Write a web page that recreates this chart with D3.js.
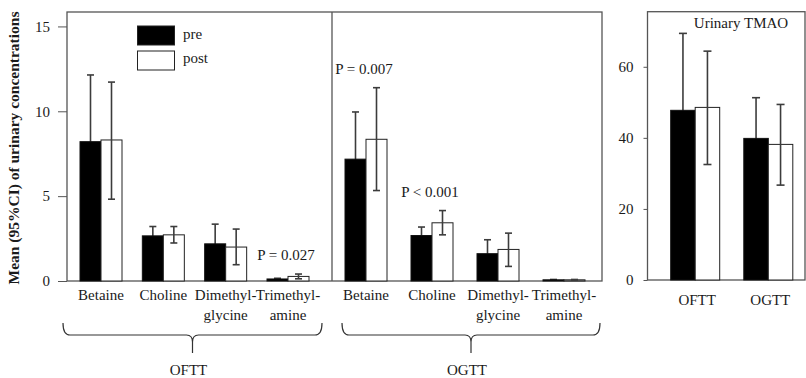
<!DOCTYPE html>
<html>
<head>
<meta charset="utf-8">
<script src="https://cdn.jsdelivr.net/npm/d3@7"></script>
<style>
body { margin: 0; background: #fff; }
svg { display: block; }
text { font-family: "Liberation Serif", "Times New Roman", serif; fill: #1a1a1a; }
</style>
</head>
<body>
<svg id="chart" width="806" height="378"></svg>
<script>
/* ------------------------------ Data ------------------------------ */
var metabolites = ["Betaine", "Choline", "Dimethylglycine", "Trimethylamine"];
var metaboliteLabels = [["Betaine"], ["Choline"], ["Dimethyl-", "glycine"], ["Trimethyl-", "amine"]];
var tests = ["OFTT", "OGTT"];

// OFTT, mean and 95% CI
var ofttPre    = [8.21, 2.66, 2.19, 0.12];
var ofttPreLo  = [4.3, 2.1, 1.05, 0.08];
var ofttPreHi  = [12.14, 3.21, 3.35, 0.16];
var ofttPost   = [8.31, 2.72, 2.0, 0.27];
var ofttPostLo = [4.82, 2.24, 0.96, 0.13];
var ofttPostHi = [11.72, 3.21, 3.06, 0.41];

// OGTT, mean and 95% CI
var ogttPre    = [7.18, 2.68, 1.61, 0.07];
var ogttPreLo  = [4.4, 2.2, 0.8, 0.05];
var ogttPreHi  = [9.96, 3.18, 2.43, 0.09];
var ogttPost   = [8.35, 3.43, 1.86, 0.07];
var ogttPostLo = [5.33, 2.72, 0.86, 0.05];
var ogttPostHi = [11.39, 4.15, 2.82, 0.09];

// Urinary TMAO (OFTT, OGTT)
var tmaoPre    = [47.75, 39.85];
var tmaoPreLo  = [26.5, 28.5];
var tmaoPreHi  = [69.4, 51.3];
var tmaoPost   = [48.57, 38.16];
var tmaoPostLo = [32.5, 26.7];
var tmaoPostHi = [64.4, 49.4];

var leftTicks = [0, 5, 10, 15];
var tmaoTicks = [0, 20, 40, 60];

var pLabels = [
  { test: "OFTT", metabolite: "Trimethylamine", text: "P = 0.027" },
  { test: "OGTT", metabolite: "Betaine", text: "P = 0.007" },
  { test: "OGTT", metabolite: "Choline", text: "P < 0.001" }
];

/* ------------------------------ Layout ------------------------------ */
var svg = d3.select("#chart");
var frameColor = "#555";
var errColor = "#3c3c3c";

var top0 = 12, base0 = 281;
var y = d3.scaleLinear().domain([0, 15.85]).range([base0, top0]);

var panels = [
  { name: "OFTT", x0: 67, x1: 332, inL: 34, inR: 44, braceL: -4, braceR: -10,
    pre: ofttPre, preLo: ofttPreLo, preHi: ofttPreHi, post: ofttPost, postLo: ofttPostLo, postHi: ofttPostHi },
  { name: "OGTT", x0: 332, x1: 602, inL: 34, inR: 38, braceL: 10, braceR: -2,
    pre: ogttPre, preLo: ogttPreLo, preHi: ogttPreHi, post: ogttPost, postLo: ogttPostLo, postHi: ogttPostHi }
];
var bw = 21;

function errorBar(g, x, lo, hi, yScale, cap) {
  g.append("line").attr("x1", x).attr("x2", x).attr("y1", yScale(lo)).attr("y2", yScale(hi))
    .attr("stroke", errColor).attr("stroke-width", 1.6);
  [lo, hi].forEach(function(v) {
    g.append("line").attr("x1", x - cap / 2).attr("x2", x + cap / 2)
      .attr("y1", yScale(v)).attr("y2", yScale(v))
      .attr("stroke", errColor).attr("stroke-width", 1.6);
  });
}

// pre bar hides the lower half of its error bar, post bar shows it
function barPair(g, cx, width, yScale, pre, preLo, preHi, post, postLo, postHi, cap) {
  errorBar(g, cx - width / 2, preLo, preHi, yScale, cap);
  g.append("rect").attr("x", cx - width).attr("y", yScale(pre)).attr("width", width)
    .attr("height", yScale(0) - yScale(pre)).attr("fill", "#000").attr("stroke", "#111");
  g.append("rect").attr("x", cx).attr("y", yScale(post)).attr("width", width)
    .attr("height", yScale(0) - yScale(post)).attr("fill", "#fff").attr("stroke", "#222");
  errorBar(g, cx + width / 2, postLo, postHi, yScale, cap);
}

// left axis (ticks + labels)
var yAxis = d3.axisLeft(y).tickValues(leftTicks).tickSize(9).tickPadding(8).tickFormat(d3.format("d"));
var ga = svg.append("g").attr("transform", "translate(67,0)").call(yAxis);
ga.select(".domain").remove();
ga.selectAll("line").attr("stroke", frameColor);
ga.selectAll("text").style("font-size", "15px").style("font-family", "'Liberation Serif', serif").attr("fill", "#1a1a1a");

// frame of the two-panel plot
svg.append("rect").attr("x", 67).attr("y", top0).attr("width", 602 - 67).attr("height", base0 - top0)
  .attr("fill", "none").attr("stroke", frameColor).attr("stroke-width", 1.3);
svg.append("line").attr("x1", 332).attr("x2", 332).attr("y1", top0).attr("y2", base0)
  .attr("stroke", frameColor).attr("stroke-width", 1.3);

svg.append("text").attr("transform", "translate(19,148) rotate(-90)")
  .attr("text-anchor", "middle").style("font-size", "15.5px").style("font-weight", "bold")
  .text("Mean (95%CI) of urinary concentrations");

panels.forEach(function(p) {
  var xp = d3.scalePoint().domain(metabolites).range([p.x0 + p.inL, p.x1 - p.inR]);
  p.scale = xp;
  var g = svg.append("g");

  metabolites.forEach(function(m, i) {
    var cx = xp(m);
    barPair(g, cx, bw, y, p.pre[i], p.preLo[i], p.preHi[i], p.post[i], p.postLo[i], p.postHi[i], 7);

    // category labels
    metaboliteLabels[i].forEach(function(line, k) {
      g.append("text").attr("x", cx).attr("y", 300 + k * 20).attr("text-anchor", "middle")
        .style("font-size", "15px").text(line);
    });
  });

  // curly brace under the categories
  var bx0 = p.x0 + p.braceL, bx1 = p.x1 + p.braceR, bc = (bx0 + bx1) / 2;
  var path = d3.path();
  path.moveTo(bx0, 323);
  path.quadraticCurveTo(bx0, 335, bx0 + 7, 335);
  path.lineTo(bc - 6, 335);
  path.quadraticCurveTo(bc, 335, bc, 342);
  path.lineTo(bc, 353);
  path.moveTo(bc, 342);
  path.quadraticCurveTo(bc, 335, bc + 6, 335);
  path.lineTo(bx1 - 7, 335);
  path.quadraticCurveTo(bx1, 335, bx1, 323);
  svg.append("path").attr("d", path.toString()).attr("fill", "none")
    .attr("stroke", "#333").attr("stroke-width", 1.2);
  svg.append("text").attr("x", bc - 4).attr("y", 375).attr("text-anchor", "middle")
    .style("font-size", "15px").text(p.name);
});

// P values
pLabels.forEach(function(d) {
  var p = panels[tests.indexOf(d.test)];
  var i = metabolites.indexOf(d.metabolite);
  svg.append("text").attr("x", p.scale(d.metabolite) - 2).attr("y", y(p.postHi[i]) - 14)
    .attr("text-anchor", "middle").style("font-size", "15px").text(d.text);
});

// legend
[["pre", "#000"], ["post", "#fff"]].forEach(function(d, k) {
  svg.append("rect").attr("x", 137.5).attr("y", 26 + k * 25).attr("width", 37).attr("height", 19)
    .attr("fill", d[1]).attr("stroke", "#222");
  svg.append("text").attr("x", 183).attr("y", 39 + k * 24).style("font-size", "15px").text(d[0]);
});

/* ------------------------------ TMAO panel ------------------------------ */
var tx0 = 647.5, tx1 = 805, tTop = 11.7, tBase = 280;
var yT = d3.scaleLinear().domain([0, 75.5]).range([tBase, tTop]);
var xT = d3.scalePoint().domain(tests).range([tx0 + 47.7, tx1 - 36.7]);
var tbw = 24.5;

var gt = svg.append("g").attr("transform", "translate(" + tx0 + ",0)")
  .call(d3.axisLeft(yT).tickValues(tmaoTicks).tickSize(4).tickPadding(10).tickFormat(d3.format("d")));
gt.select(".domain").remove();
gt.selectAll("line").attr("stroke", frameColor);
gt.selectAll("text").style("font-size", "15px").style("font-family", "'Liberation Serif', serif").attr("fill", "#1a1a1a");

svg.append("rect").attr("x", tx0).attr("y", tTop).attr("width", tx1 - tx0).attr("height", tBase - tTop)
  .attr("fill", "none").attr("stroke", frameColor).attr("stroke-width", 1.3);

tests.forEach(function(t, i) {
  var cx = xT(t);
  barPair(svg, cx, tbw, yT, tmaoPre[i], tmaoPreLo[i], tmaoPreHi[i], tmaoPost[i], tmaoPostLo[i], tmaoPostHi[i], 8);
  svg.append("text").attr("x", cx + 2).attr("y", 305).attr("text-anchor", "middle")
    .style("font-size", "15px").text(t);
});

svg.append("text").attr("x", 741).attr("y", 28).attr("text-anchor", "middle")
  .style("font-size", "15px").text("Urinary TMAO");
</script>
</body>
</html>
